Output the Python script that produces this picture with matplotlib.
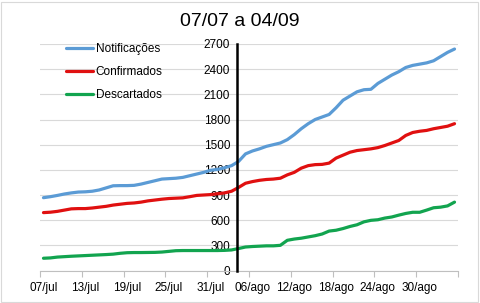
import matplotlib
matplotlib.use("Agg")
import matplotlib.pyplot as plt
from matplotlib.patches import Rectangle

# ---------------------------------------------------------------------------
# data (one value per day 07/jul .. 04/set)
# ---------------------------------------------------------------------------
notificacoes = [868, 880, 895, 912, 925, 935, 938, 945, 960, 985,
                1010, 1012, 1012, 1015, 1030, 1050, 1070, 1090, 1095, 1100,
                1110, 1130, 1150, 1170, 1195, 1205, 1225, 1250, 1300, 1390,
                1425, 1450, 1480, 1500, 1520, 1560, 1620, 1690, 1750, 1800,
                1830, 1860, 1940, 2030, 2080, 2130, 2155, 2160, 2230, 2280,
                2330, 2370, 2420, 2445, 2460, 2475, 2500, 2550, 2600, 2640]
confirmados = [690, 695, 705, 720, 735, 738, 738, 745, 755, 765,
               780, 790, 800, 805, 815, 830, 840, 850, 858, 862,
               866, 880, 895, 900, 905, 915, 925, 945, 990, 1040,
               1060, 1075, 1085, 1090, 1100, 1140, 1170, 1220, 1250, 1262,
               1265, 1280, 1340, 1375, 1410, 1430, 1440, 1450, 1465, 1490,
               1520, 1550, 1610, 1645, 1660, 1670, 1690, 1705, 1720, 1750]
descartados = [146, 150, 160, 165, 170, 174, 178, 182, 186, 190,
               195, 205, 212, 214, 214, 215, 216, 220, 228, 236,
               238, 238, 238, 238, 238, 238, 240, 245, 262, 280,
               286, 290, 294, 294, 300, 360, 375, 385, 400, 415,
               435, 470, 480, 500, 525, 545, 580, 598, 605, 625,
               638, 660, 680, 694, 694, 720, 748, 755, 770, 815]

date_labels = ["07/jul", "13/jul", "19/jul", "25/jul", "31/jul",
               "06/ago", "12/ago", "18/ago", "24/ago", "30/ago"]
y_ticks = [0, 300, 600, 900, 1200, 1500, 1800, 2100, 2400, 2700]

days = list(range(len(notificacoes)))

plt.rcParams["font.family"] = ["Liberation Sans", "DejaVu Sans"]

fig = plt.figure(figsize=(4.8, 3.03), dpi=100)
ax = fig.add_axes([40 / 480, 32.5 / 303, 418 / 480, 226.5 / 303])

ax.plot(days, notificacoes, color="#5b9bd5", lw=2.3, label="Notificações",
        solid_capstyle="round", zorder=3)
ax.plot(days, confirmados, color="#e01010", lw=2.3, label="Confirmados",
        solid_capstyle="round", zorder=3)
ax.plot(days, descartados, color="#12a44f", lw=2.3, label="Descartados",
        solid_capstyle="round", zorder=3)

ax.set_xlim(-0.5, len(days) - 0.5)
ax.set_ylim(0, 2700)

# horizontal gridlines
ax.set_yticks(y_ticks)
ax.yaxis.grid(True, color="#d9d9d9", lw=0.8)
ax.set_axisbelow(True)

# x: tick marks between categories, labels on every 6th day
ax.set_xticks([i - 0.5 for i in range(0, len(days) + 1, 6)])
ax.set_xticklabels([])
ax.set_xticks(list(range(0, len(days), 6)), minor=True)
ax.set_xticklabels(date_labels, minor=True)
ax.tick_params(axis="x", which="major", length=4, color="#bfbfbf", direction="out")
ax.tick_params(axis="x", which="minor", length=0, pad=8, labelsize=8.5)

# y axis crossing at 04/ago
ax.spines["left"].set_position(("data", 27.8))
ax.spines["left"].set_color("black")
ax.spines["left"].set_linewidth(1.8)
ax.spines["left"].set_zorder(4)
ax.tick_params(axis="y", length=0, pad=5, labelsize=8.5)

ax.spines["bottom"].set_color("#bfbfbf")
ax.spines["top"].set_visible(False)
ax.spines["right"].set_visible(False)

fig.suptitle("07/07 a 04/09", x=0.5, y=1 - 22 / 303, va="center", fontsize=14)

leg = fig.legend(loc="upper left", bbox_to_anchor=(66 / 480, 1 - 43 / 303),
                 frameon=False, fontsize=8.5, handlelength=2.3,
                 handletextpad=0.2, labelspacing=0.95, borderpad=0,
                 borderaxespad=0)

# faint chart-area border
fig.patches.append(Rectangle((0.002, 0.004), 0.994, 0.99, transform=fig.transFigure,
                             fill=False, edgecolor="#d9d9d9", lw=0.8))

fig.savefig("out.png", dpi=100)
